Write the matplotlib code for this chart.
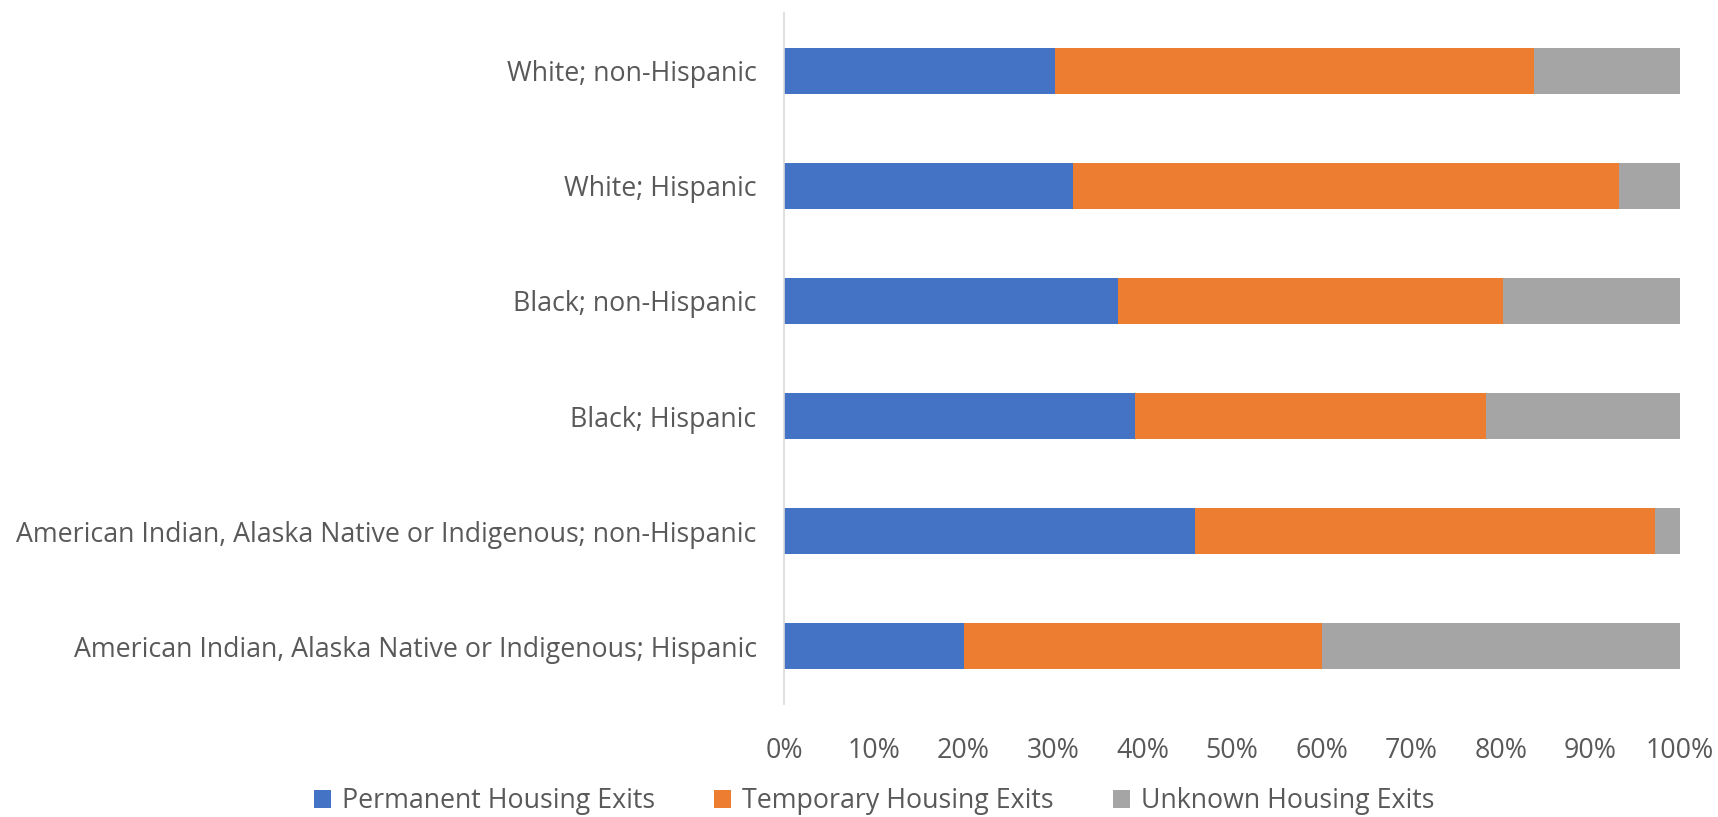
import matplotlib
matplotlib.use('Agg')
import matplotlib.pyplot as plt
import numpy as np
from matplotlib.ticker import PercentFormatter

# Categories, top to bottom as shown
groups = [
    'White; non-Hispanic',
    'White; Hispanic',
    'Black; non-Hispanic',
    'Black; Hispanic',
    'American Indian, Alaska Native or Indigenous; non-Hispanic',
    'American Indian, Alaska Native or Indigenous; Hispanic',
]

# Shares of exits (percent)
permanent = [30.2, 32.2, 37.2, 39.1, 45.8, 20.0]
temporary = [53.5, 61.0, 43.0, 39.2, 51.4, 40.0]
unknown = [16.3, 6.8, 19.8, 21.7, 2.8, 40.0]

series_names = ['Permanent Housing Exits', 'Temporary Housing Exits', 'Unknown Housing Exits']
colors = ['#4472C4', '#ED7D31', '#A5A5A5']
text_color = '#595959'

plt.rcParams['font.family'] = ['Open Sans', 'DejaVu Sans']

fig = plt.figure(figsize=(17.18, 8.17), dpi=100)
ax = fig.add_axes([0.4566, 0.1383, 0.5213, 0.8458])

y = np.arange(len(groups))
left = np.zeros(len(groups))
for name, vals, c in zip(series_names, [permanent, temporary, unknown], colors):
    vals = np.array(vals)
    ax.barh(y, vals, left=left, height=0.4, color=c, label=name)
    left += vals

ax.set_ylim(-0.5, len(groups) - 0.5)
ax.invert_yaxis()
ax.set_xlim(0, 100)
ax.set_xticks(np.arange(0, 101, 10))
ax.xaxis.set_major_formatter(PercentFormatter(decimals=0))
ax.set_yticks(y)
ax.set_yticklabels(groups)

for s in ['top', 'right', 'bottom']:
    ax.spines[s].set_visible(False)
ax.spines['left'].set_color('#D9D9D9')
ax.spines['left'].set_linewidth(1.2)

ax.tick_params(axis='both', length=0, labelsize=19.3, colors=text_color)
ax.tick_params(axis='x', pad=24)
ax.tick_params(axis='y', pad=20)

handles, labels = ax.get_legend_handles_labels()
fig.legend(handles, labels, loc='center', bbox_to_anchor=(874 / 1718, 1 - 801 / 817),
           ncol=3, frameon=False, fontsize=19.3, labelcolor=text_color,
           handlelength=0.65, handleheight=0.65, handletextpad=0.4, columnspacing=2.2)

fig.savefig('out.png', dpi=100)
